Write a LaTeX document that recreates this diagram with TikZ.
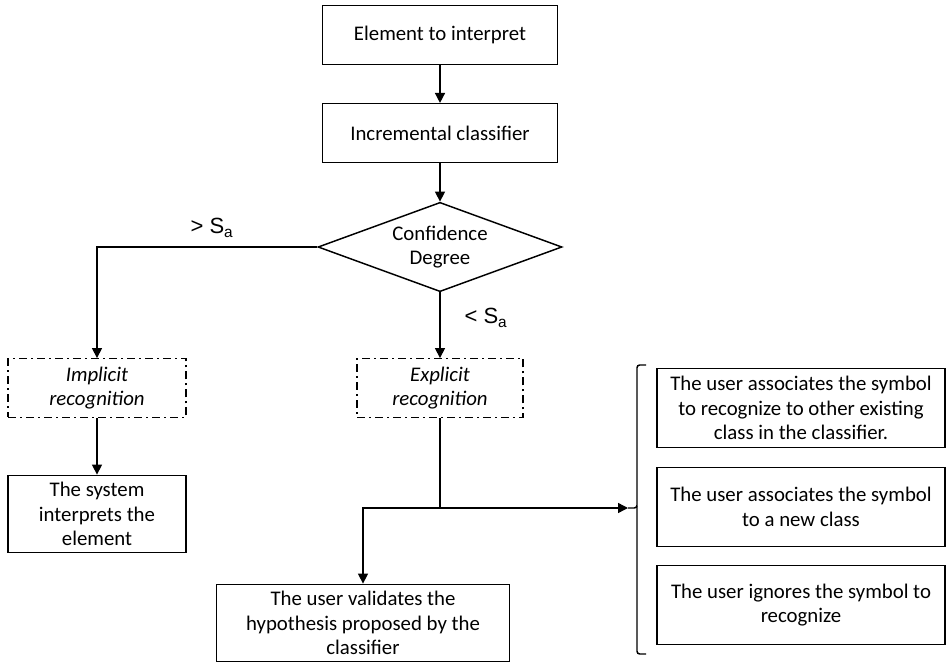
\documentclass[tikz,border=0pt]{standalone}
\usepackage{fontspec}
\setmainfont{Carlito}
\newfontfamily\labelfont{Liberation Sans}
\usetikzlibrary{shapes.geometric,arrows.meta}

\begin{document}
\fontsize{15.6}{18.4}\selectfont
\begin{tikzpicture}[x=0.75pt,y=-0.75pt,
    box/.style={draw,line width=1.1pt,align=center,inner sep=0pt,minimum height=44pt},
    dbox/.style={box,line width=0.9pt,dash pattern=on 6pt off 3pt on 1.5pt off 3pt,font=\itshape},
    decision/.style={draw,diamond,aspect=2.74,line width=1.1pt,align=center,inner sep=0pt,minimum width=183pt,minimum height=67pt},
    cond/.style={font=\labelfont\fontsize{16.5}{18}\selectfont,inner sep=0pt},
    arr/.style={line width=1.1pt,-{Triangle[length=7.5pt,width=7.5pt]}},
    line/.style={line width=1.1pt}]
    \useasboundingbox (0,0) rectangle (947,664);

    % Main column
    \node[box,minimum width=176pt] (elem) at (440,35) {Element to interpret};
    \node[box,minimum width=176pt] (incr) at (440,133) {Incremental classifier};
    \node[decision] (conf) at (440,247) {Confidence\\Degree};
    \node[cond] (gt) at (212,228) {> S\textsubscript{a}};
    \node[cond] (lt) at (486,318) {< S\textsubscript{a}};

    % Recognition modes
    \node[dbox,minimum width=133.5pt] (impl) at (97,388) {Implicit\\recognition};
    \node[dbox,minimum width=124.5pt] (expl) at (440,388) {Explicit\\recognition};
    \node[box,minimum width=133.5pt,minimum height=58pt] (sys) at (97,514) {The system\\interprets the\\element};
    \node[box,minimum width=220pt,minimum height=58pt] (valid) at (363,623) {The user validates the\\hypothesis proposed by the\\classifier};

    % User choices
    \node[box,minimum width=216pt,minimum height=59pt] (assoc) at (801,408) {The user associates the symbol\\to recognize to other existing\\class in the classifier.};
    \node[box,minimum width=216pt,minimum height=59pt] (newcl) at (801,507) {The user associates the symbol\\to a new class};
    \node[box,minimum width=216pt,minimum height=59pt] (ignore) at (801,605) {The user ignores the symbol to\\recognize};

    \coordinate (split) at (440,508);
    \coordinate (tick) at (628,508);
    \coordinate (btop) at (646,365); \coordinate (bbot) at (646,654);

    % Connectors
    \draw[arr] (elem) -- (incr);
    \draw[arr] (incr) -- (conf);
    \draw[arr] (conf.west) -| (impl.north);
    \draw[arr] (conf.south) -- (expl.north);
    \draw[arr] (impl) -- (sys);
    \draw[line] (expl.south) -- (split);
    \draw[arr] (split) -| (valid.north);
    \draw[arr] (split) -- (tick);
    \draw[line,rounded corners=2pt] (btop) -- (637,365) -- (637,508) -- (tick);
    \draw[line,rounded corners=2pt] (637,506) -- (637,654) -- (bbot);
\end{tikzpicture}
\end{document}
